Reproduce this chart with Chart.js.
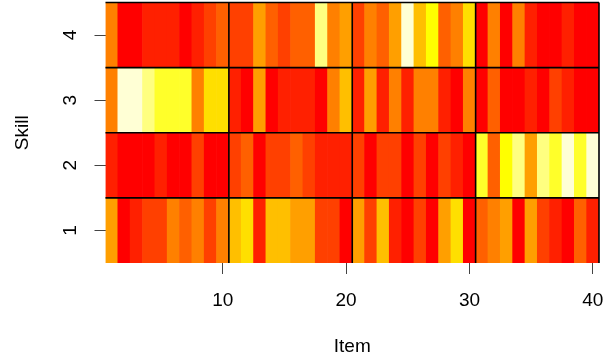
<!DOCTYPE html>
<html>
<head>
<meta charset="utf-8">
<script src="https://cdn.jsdelivr.net/npm/chart.js@4/dist/chart.umd.min.js"></script>
<style>
  html, body { margin: 0; padding: 0; background: #ffffff; }
  canvas { display: block; }
</style>
</head>
<body>
<canvas id="chart" width="615" height="364"></canvas>
<script>
// Items along the x axis, skills along the y axis
const ITEMS = [1, 2, 3, 4, 5, 6, 7, 8, 9, 10,
               11, 12, 13, 14, 15, 16, 17, 18, 19, 20,
               21, 22, 23, 24, 25, 26, 27, 28, 29, 30,
               31, 32, 33, 34, 35, 36, 37, 38, 39, 40];
const SKILLS = [1, 2, 3, 4];

// Heat level of each item for each skill (0 = red ... 11 = pale yellow)
const SKILL_1 = [5, 0, 1, 2, 2, 4, 3, 4, 2, 4,
                 6, 7, 1, 6, 6, 5, 5, 2, 2, 0,
                 5, 2, 6, 1, 0, 2, 0, 5, 7, 0,
                 3, 4, 5, 0, 5, 2, 1, 0, 3, 1];
const SKILL_2 = [1, 0, 0, 0, 1, 0, 0, 2, 0, 0,
                 2, 3, 0, 2, 2, 3, 2, 1, 1, 1,
                 2, 0, 2, 2, 0, 2, 0, 2, 1, 0,
                 9, 3, 8, 10, 5, 10, 9, 11, 9, 11];
const SKILL_3 = [4, 11, 11, 10, 9, 9, 9, 4, 7, 7,
                 1, 0, 5, 0, 1, 1, 1, 0, 4, 6,
                 1, 5, 1, 4, 1, 4, 4, 1, 0, 4,
                 0, 3, 0, 0, 1, 0, 2, 1, 0, 0];
const SKILL_4 = [4, 0, 0, 1, 1, 1, 0, 1, 2, 3,
                 2, 2, 5, 3, 2, 3, 3, 10, 4, 5,
                 2, 4, 3, 5, 11, 6, 8, 3, 4, 7,
                 0, 4, 0, 4, 1, 0, 0, 1, 0, 0];

const X_TICKS = [10, 20, 30, 40];
const Y_TICKS = [1, 2, 3, 4];
const X_DIVIDERS = [10.5, 20.5, 30.5, 40.5];
const Y_DIVIDERS = [1.5, 2.5, 3.5, 4.5];

// heat.colors(12)
const HEAT = ['#FF0000', '#FF2000', '#FF4000', '#FF6000', '#FF8000', '#FF9F00',
              '#FFBF00', '#FFDF00', '#FFFF00', '#FFFF2A', '#FFFF80', '#FFFFD5'];

const FONT = "'Liberation Sans', Arial, Helvetica, sans-serif";
const FONT_SIZE = 19;

const LEVELS = [SKILL_1, SKILL_2, SKILL_3, SKILL_4];

const datasets = SKILLS.map((skill, k) => ({
  label: 'Skill ' + skill,
  data: ITEMS.map(item => ({ x: item, y: [skill - 0.5, skill + 0.5] })),
  backgroundColor: LEVELS[k].map(level => HEAT[level]),
  borderWidth: 0,
  grouped: false,
  barPercentage: 1,
  categoryPercentage: 1
}));

// Black separators between blocks of items and between skills
const dividers = {
  id: 'dividers',
  afterDatasetsDraw(chart) {
    const { ctx, chartArea: a, scales: { x, y } } = chart;
    ctx.save();
    ctx.strokeStyle = '#000000';
    ctx.lineWidth = 1.6;
    ctx.beginPath();
    X_DIVIDERS.forEach(v => {
      const px = x.getPixelForValue(v);
      ctx.moveTo(px, a.top);
      ctx.lineTo(px, a.bottom);
    });
    Y_DIVIDERS.forEach(v => {
      const py = y.getPixelForValue(v);
      ctx.moveTo(a.left, py);
      ctx.lineTo(a.right, py);
    });
    ctx.stroke();
    ctx.restore();
  }
};

const tickGrid = {
  drawOnChartArea: false,
  drawTicks: true,
  tickLength: 11,
  tickColor: '#444444',
  tickWidth: 1,
  offset: false
};

new Chart(document.getElementById('chart'), {
  type: 'bar',
  data: { datasets },
  options: {
    responsive: false,
    animation: false,
    devicePixelRatio: 1,
    layout: { padding: { top: 2.5, right: 16, bottom: 0, left: 0 } },
    plugins: {
      legend: { display: false },
      tooltip: { enabled: false }
    },
    scales: {
      x: {
        type: 'linear',
        min: 0.5,
        max: 40.5,
        offset: false,
        afterBuildTicks: s => { s.ticks = X_TICKS.map(v => ({ value: v })); },
        afterFit: s => { s.height = 101; s.paddingLeft = 0; s.paddingRight = 0; },
        grid: tickGrid,
        border: { display: false },
        ticks: {
          color: '#000000',
          font: { family: FONT, size: FONT_SIZE },
          padding: 15,
          minRotation: 0,
          maxRotation: 0,
          autoSkip: false
        },
        title: {
          display: true,
          text: 'Item',
          color: '#000000',
          font: { family: FONT, size: FONT_SIZE },
          padding: { top: 0, bottom: 5.6 }
        }
      },
      y: {
        type: 'linear',
        min: 0.5,
        max: 4.5,
        offset: false,
        afterBuildTicks: s => { s.ticks = Y_TICKS.map(v => ({ value: v })); },
        afterFit: s => { s.width = 105.5; s.paddingTop = 0; s.paddingBottom = 0; },
        grid: tickGrid,
        border: { display: false },
        ticks: {
          color: '#000000',
          font: { family: FONT, size: FONT_SIZE },
          padding: 18,
          minRotation: 90,
          maxRotation: 90,
          crossAlign: 'center'
        },
        title: {
          display: true,
          text: 'Skill',
          color: '#000000',
          font: { family: FONT, size: FONT_SIZE },
          padding: { top: 11.1, bottom: 0 }
        }
      }
    }
  },
  plugins: [dividers]
});
</script>
</body>
</html>
